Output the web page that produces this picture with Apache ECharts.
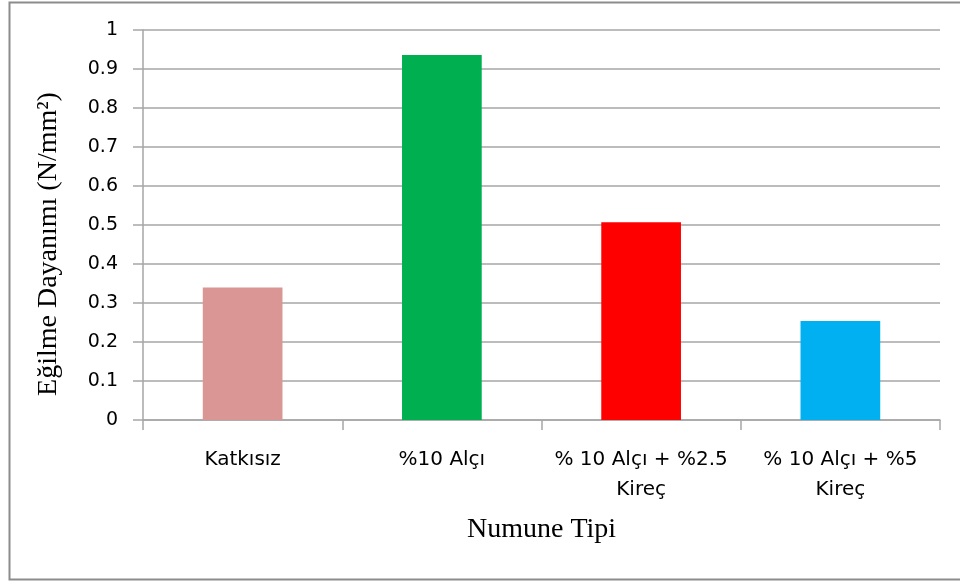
<!DOCTYPE html>
<html>
<head>
<meta charset="utf-8">
<script src="https://cdn.jsdelivr.net/npm/echarts@6/dist/echarts.min.js"></script>
<style>html,body{margin:0;padding:0;background:#fff;}#c{width:960px;height:581px;}</style>
</head>
<body>
<div id="c"></div>
<script>
const categories = ['Katkısız', '%10 Alçı', '% 10 Alçı + %2.5\nKireç', '% 10 Alçı + %5\nKireç'];
const values = [0.34, 0.936, 0.507, 0.254];
const barColors = ['#d99694', '#00b050', '#ff0000', '#00b0f0'];
const yTicks = { min: 0, max: 1, interval: 0.1 };

const chart = echarts.init(document.getElementById('c'), null, { renderer: 'canvas' });
chart.setOption({
  animation: false,
  backgroundColor: '#ffffff',
  graphic: [{
    type: 'rect', left: 7, top: 0, silent: true,
    shape: { width: 970, height: 577 },
    style: { fill: 'none', stroke: '#8c8c8c', lineWidth: 2 }
  }],
  grid: { left: 143, right: 20, top: 30, bottom: 161, containLabel: false },
  xAxis: {
    type: 'category',
    data: categories,
    boundaryGap: true,
    name: 'Numune Tipi',
    nameLocation: 'middle',
    nameGap: 96,
    nameTextStyle: { fontFamily: 'Liberation Serif', fontSize: 28, color: '#000' },
    axisLine: { lineStyle: { color: '#a6a6a6', width: 1.5 } },
    axisTick: { show: true, length: 10, alignWithLabel: false, lineStyle: { color: '#a6a6a6', width: 1.5 } },
    axisLabel: { fontFamily: 'DejaVu Sans', fontSize: 20, color: '#000', margin: 25, lineHeight: 30, interval: 0 }
  },
  yAxis: {
    type: 'value',
    min: yTicks.min, max: yTicks.max, interval: yTicks.interval,
    name: 'Eğilme Dayanımı (N/mm²)',
    nameLocation: 'middle',
    nameGap: 80,
    nameTextStyle: { fontFamily: 'Liberation Serif', fontSize: 28, color: '#000', padding: [0, 38, 0, 0] },
    axisLine: { show: true, lineStyle: { color: '#a6a6a6', width: 1.5 } },
    axisTick: { show: true, length: 10, lineStyle: { color: '#a6a6a6', width: 1.5 } },
    splitLine: { show: true, lineStyle: { color: '#a6a6a6', width: 1.5 } },
    axisLabel: {
      fontFamily: 'DejaVu Sans', fontSize: 19, color: '#000', margin: 25,
      formatter: v => String(Math.round(v * 10) / 10)
    }
  },
  series: [{
    type: 'bar',
    data: values.map((v, i) => ({ value: v, itemStyle: { color: barColors[i] } })),
    barWidth: '40%'
  }]
});
</script>
</body>
</html>
